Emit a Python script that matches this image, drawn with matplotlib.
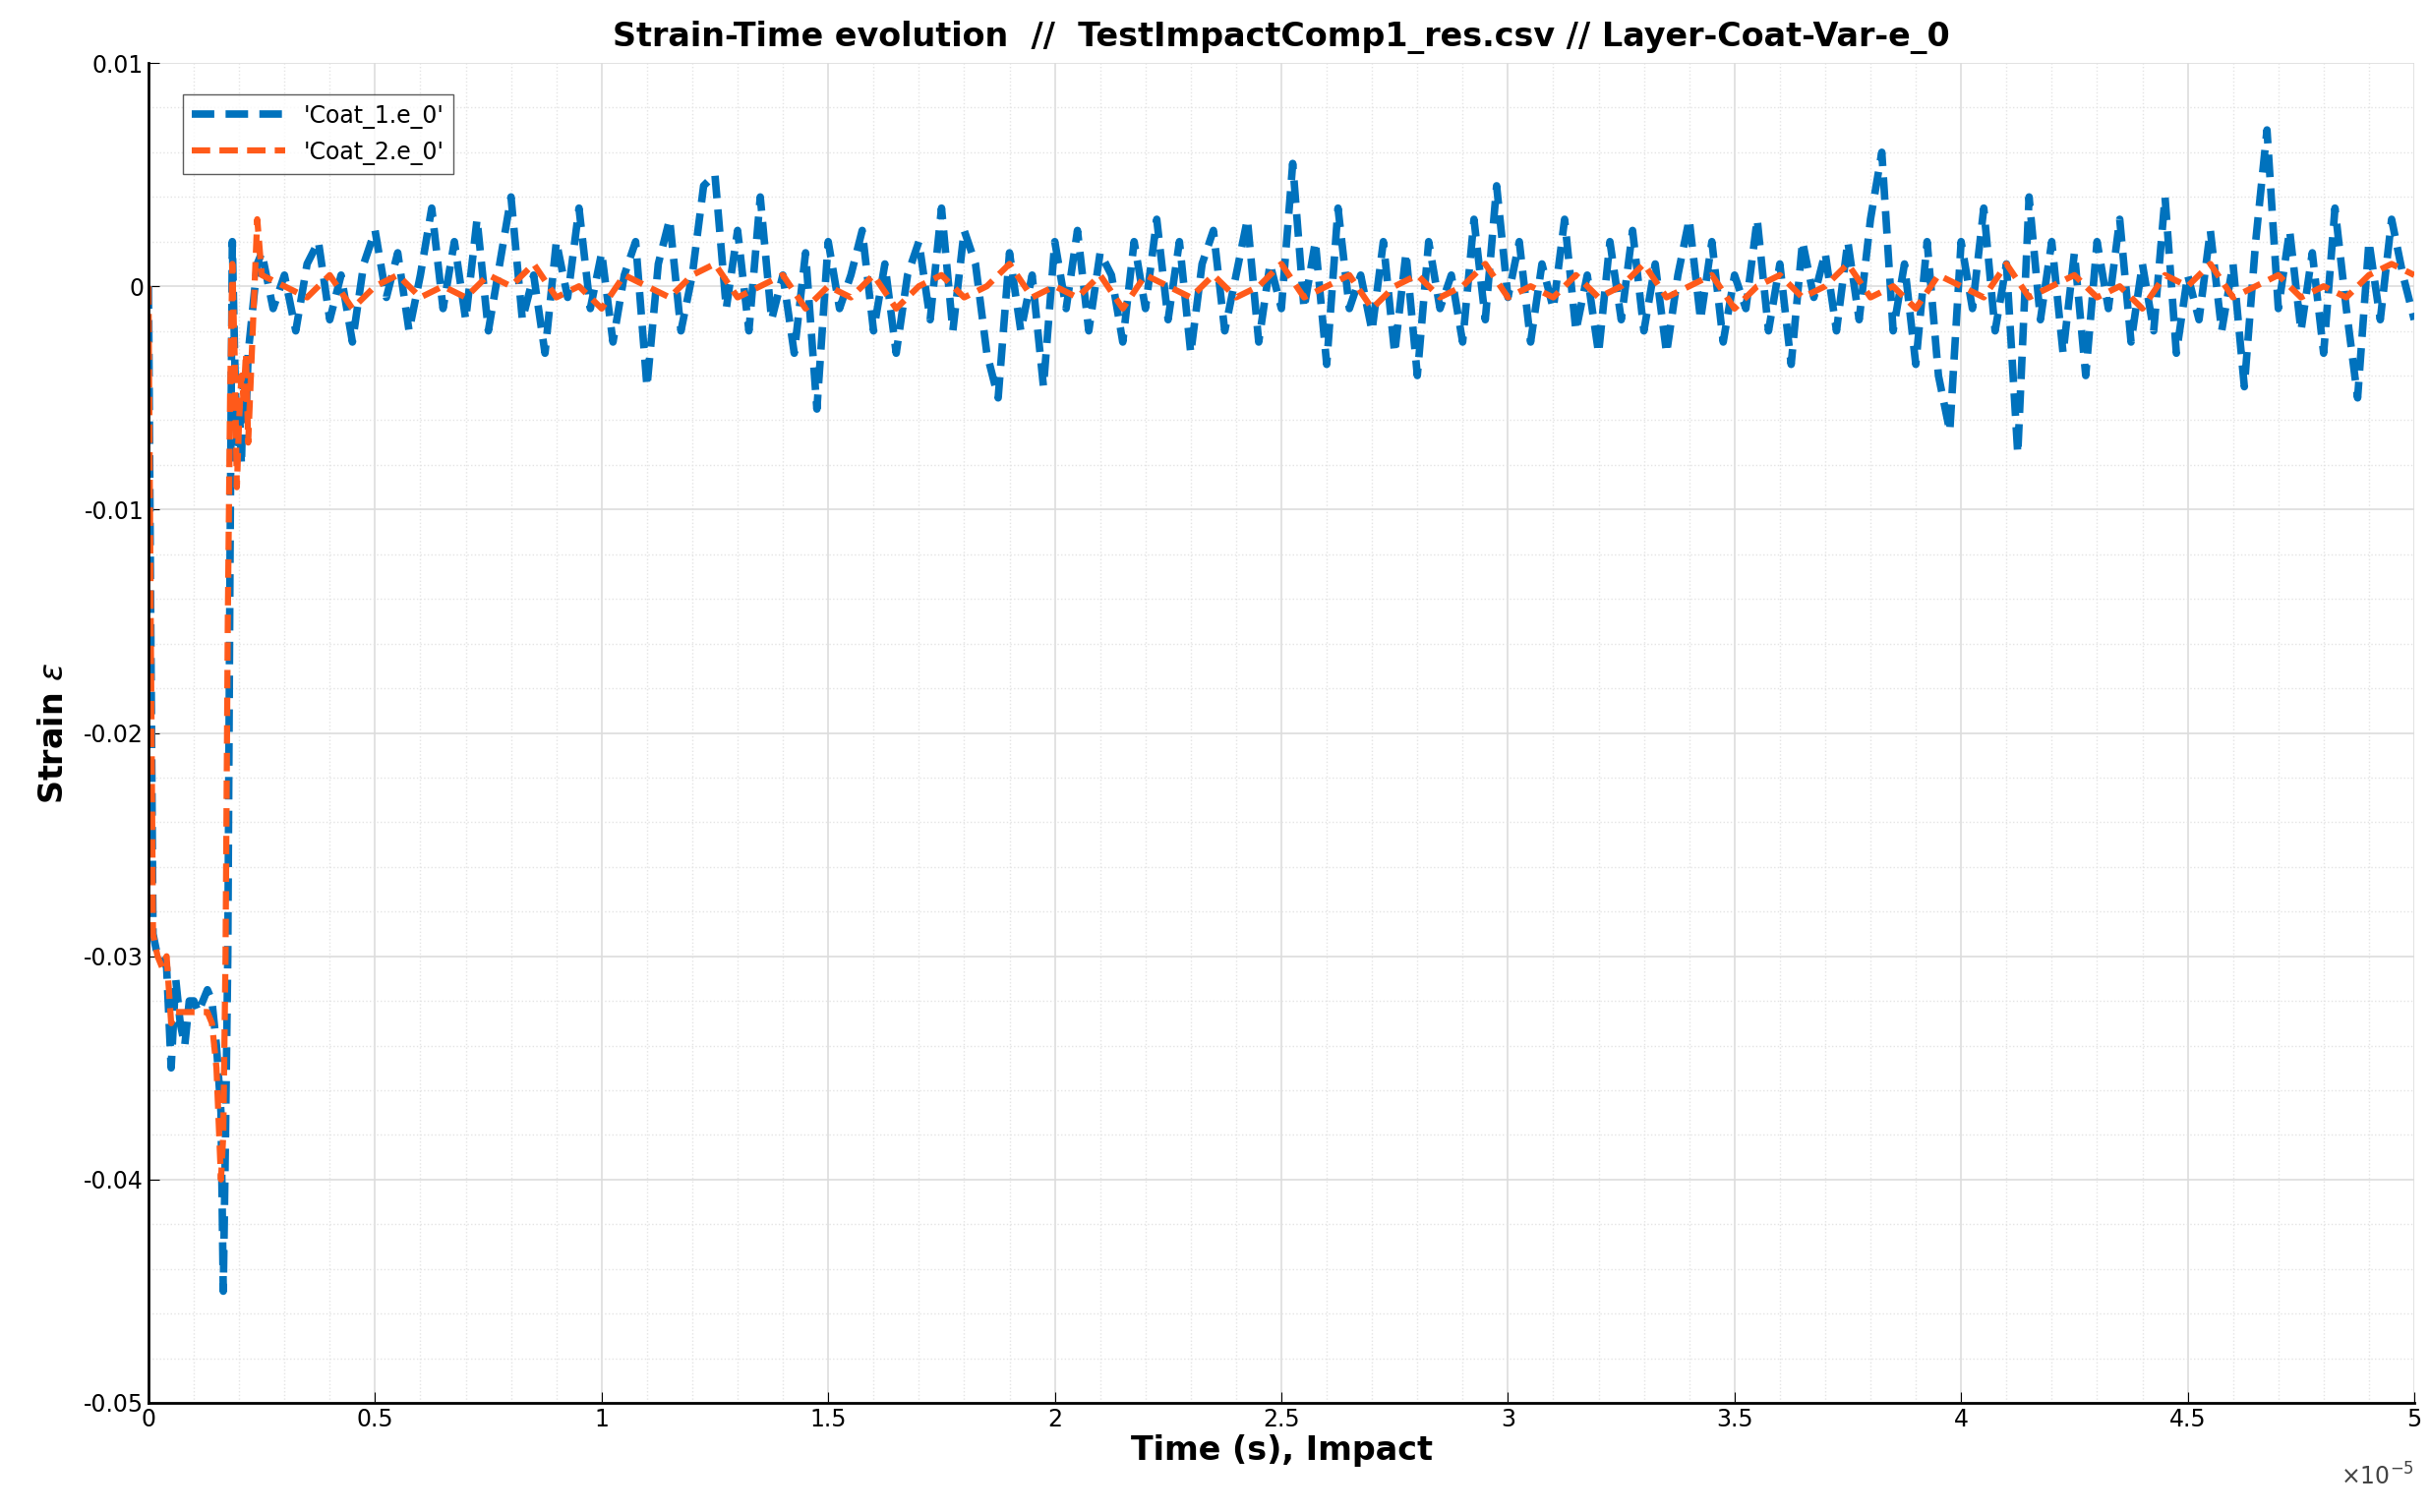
import numpy as np
import matplotlib.pyplot as plt
from matplotlib.ticker import FuncFormatter, MultipleLocator

# ----- Data (time in 1e-5 s, strain in 1e-3) -----
t_init = [0.0, 0.005, 0.01, 0.02, 0.03, 0.04, 0.05, 0.06, 0.07, 0.08, 0.09, 0.10,
          0.11, 0.12, 0.13, 0.14, 0.15, 0.16, 0.165, 0.17, 0.175, 0.18, 0.185,
          0.19, 0.195, 0.20, 0.205, 0.21, 0.215, 0.22, 0.23, 0.24]
coat1_init = [0, -15, -29, -30, -30, -30.5, -35, -31, -33, -34, -32, -32,
              -32.5, -32, -31.5, -32, -34, -37, -45, -38, -30, -12, 2,
              -3, -7, -5, -8, -4, -6, -3, -1, 1]
coat2_init = [0, -15, -29, -30, -30.5, -30, -33, -32.5, -32.5, -32.5, -32.5, -32.5,
              -32.5, -32.5, -32.5, -33, -35, -40, -38, -30, -15, -5, 1,
              -3, -9, -6, -4, -5, -3, -7, -2, 3]

coat1_steady = [
    1.5, -1, 0.5, -2, 1, 2, -1.5, 0.5, -2.5, 1, 2.5, -0.5, 1.5, -2, 0.5, 3.5, -1, 2, -1.5, 3,
    -2, 1, 4, -1.5, 0.5, -3, 2, -0.5, 3.5, -1, 1.5, -2.5, 0.5, 2, -4.5, 1, 3, -2, 0.5, 4.5,
    5, -1, 2.5, -2, 4, -1.5, 0.5, -3, 1.5, -5.5, 2, -1, 0.5, 2.5, -2, 1, -3, 0.5, 2, -1.5,
    3.5, -2, 2.5, 1, -3, -5, 1.5, -2, 0.5, -4.5, 2, -1, 2.5, -2, 1.5, 0.5, -2.5, 2, -1, 3,
    -1.5, 2, -3, 1, 2.5, -2, 0.5, 3, -2.5, 1, -1, 5.5, -1, 2, -3.5, 3.5, -1, 0.5, -2, 2,
    -3, 1.5, -4, 2, -1, 0.5, -2.5, 3, -1.5, 4.5, -0.5, 2, -2.5, 1, -1, 3, -2, 0.5, -3, 2,
    -1.5, 2.5, -2, 1, -3, 0.5, 3, -1.5, 2, -2.5, 0.5, -1, 3, -2, 1, -3.5, 2, -0.5, 1.5, -2,
    2, -1.5, 3, 6, -2, 1, -3.5, 2, -4, -6.5, 2, -1, 3.5, -2, 1, -7.5, 4, -1.5, 2, -3,
    1.5, -4, 2, -1, 3, -2.5, 1, -2, 4, -3, 0.5, -1.5, 2.5, -2, 1, -4.5, 2, 7, -1, 2.5,
    -2, 1.5, -3, 3.5, -1, -5, 2, -1.5, 3, 0.5, -1.5]
coat2_steady = [
    0.5, 0, -0.5, 0.5, -1, 0, 0.5, -0.5, 0, -0.5, 0.5, 0, 1, -0.5, 0, -1, 0.5, 0, -0.5, 0.5,
    1, -0.5, 0, 0.5, -1, 0, -0.5, 0.5, -1, 0, 0.5, -0.5, 0, 1, -0.5, 0, -0.5, 0.5, -1, 0.5,
    0, -0.5, 0.5, -0.5, 0, 1, -0.5, 0, 0.5, -1, 0, 0.5, -0.5, 0, 1, -0.5, 0, -0.5, 0.5, -0.5,
    0, 1, -0.5, 0, 0.5, -1, 0, 0.5, -0.5, 0, 1, -0.5, 0, -1, 0.5, 0, -0.5, 1, -0.5, 0,
    0.5, -0.5, 0, -1, 0.5, 0, 1, -0.5, 0, 0.5, -0.5, 0, -0.5, 0.5, 1, 0.5]

t1 = np.concatenate([t_init, 0.25 + 0.025 * np.arange(len(coat1_steady))])
t2 = np.concatenate([t_init, 0.25 + 0.05 * np.arange(len(coat2_steady))])
e1 = np.concatenate([coat1_init, coat1_steady]) / 1000
e2 = np.concatenate([coat2_init, coat2_steady]) / 1000


def fmt(v, p):
    v = round(v, 4)
    return '0' if v == 0 else '%g' % v


# ----- Plot -----
fig = plt.figure(figsize=(24.71, 15.38), dpi=100)
ax = fig.add_axes([151 / 2471, 1 - 1427 / 1538, 2304 / 2471, 1363 / 1538])
ax.plot(t1, e1, '--', color='#0072BD', lw=5.5, dashes=(3, 1.5), label="'Coat_1.e_0'")
ax.plot(t2, e2, '--', color='#FF5A1A', lw=4.5, dashes=(3, 1.5), label="'Coat_2.e_0'")

ax.set_xlim(0, 5)
ax.set_ylim(-0.05, 0.01)
ax.xaxis.set_major_locator(MultipleLocator(0.5))
ax.xaxis.set_minor_locator(MultipleLocator(0.1))
ax.yaxis.set_major_locator(MultipleLocator(0.01))
ax.yaxis.set_minor_locator(MultipleLocator(0.002))
ax.xaxis.set_major_formatter(FuncFormatter(fmt))
ax.yaxis.set_major_formatter(FuncFormatter(fmt))
ax.grid(which='major', color='#DDDDDD', lw=1.2)
ax.grid(which='minor', color='#E4E4E4', lw=1, ls=':')
ax.tick_params(labelsize=17, direction='in', length=8)
ax.tick_params(which='minor', length=0)
for s in ['top', 'right']:
    ax.spines[s].set_visible(False)
for s in ['left', 'bottom']:
    ax.spines[s].set_linewidth(2)

ax.set_xlabel("Time (s), Impact", fontsize=24, fontweight='bold', labelpad=2)
ax.set_ylabel("Strain $\\epsilon$", fontsize=24, fontweight='bold', labelpad=10)
ax.set_title("Strain-Time evolution  //  TestImpactComp1_res.csv // Layer-Coat-Var-e_0",
             fontsize=24, fontweight='bold', pad=12)
ax.text(1.0, -0.045, r'$\times10^{-5}$', transform=ax.transAxes, fontsize=17,
        ha='right', va='top', color='#444444')
ax.legend(loc='upper left', fontsize=17, handlelength=4, frameon=True, fancybox=False,
          edgecolor='#333333', bbox_to_anchor=(0.01, 0.985))

fig.savefig('out.png', dpi=100)
